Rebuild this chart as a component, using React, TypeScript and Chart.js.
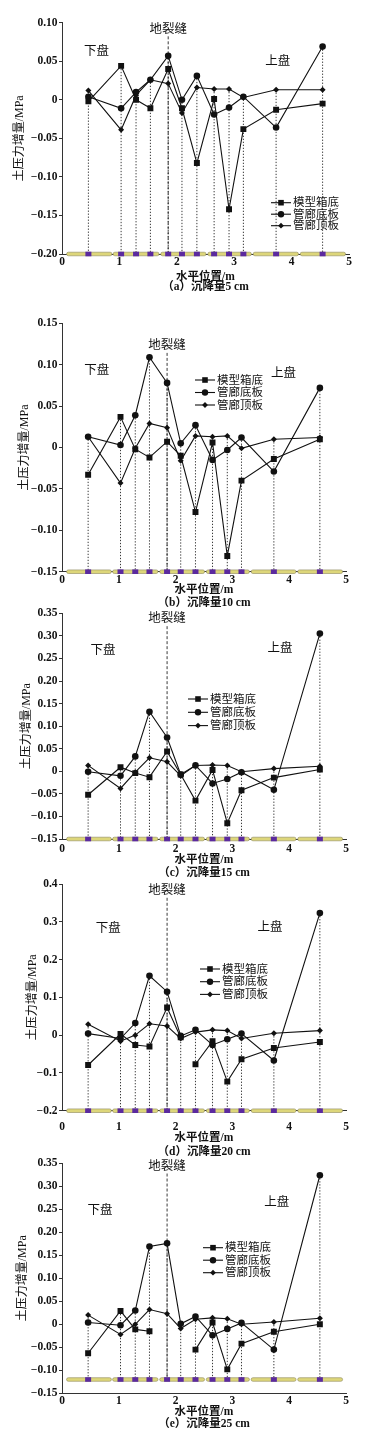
import React, { useEffect, useRef } from 'react';
import { Chart, registerables } from 'chart.js';

Chart.register(...registerables);

const FONT = "'Liberation Serif', 'Noto Sans CJK SC', serif";

// sensor positions (m) and fault location
const positions = [0.46, 1.03, 1.29, 1.54, 1.85, 2.09, 2.35, 2.65, 2.91, 3.16, 3.73, 4.54];
const faultX = 1.85;
const seriesNames = ['模型箱底', '管廊底板', '管廊顶板'];
const xTickValues = [0, 1, 2, 3, 4, 5];
const tubeStarts = [0.08, 0.89, 1.72, 2.54, 3.33, 4.15];
const tubeEnds = [0.87, 1.69, 2.51, 3.3, 4.12, 4.94];
const xTitle = '水平位置/m';
const yTitle = '土压力增量/MPa';
const captions = ['（a）沉降量5 cm', '（b）沉降量10 cm', '（c）沉降量15 cm', '（d）沉降量20 cm', '（e）沉降量25 cm'];

// (a) 5 cm
const boxA = [-0.002, 0.044, 0.0, -0.011, 0.04, -0.011, -0.082, 0.001, -0.142, -0.038, -0.013, -0.005];
const floorA = [0.004, -0.011, 0.01, 0.026, 0.057, 0.0, 0.031, -0.019, -0.01, 0.004, -0.036, 0.069];
const roofA = [0.012, -0.039, 0.006, 0.026, 0.021, -0.017, 0.016, 0.014, 0.014, 0.003, 0.013, 0.013];

// (b) 10 cm
const boxB = [-0.033, 0.037, -0.002, -0.012, 0.007, -0.01, -0.078, 0.006, -0.131, -0.04, -0.014, 0.01];
const floorB = [0.013, 0.003, 0.039, 0.109, 0.078, 0.005, 0.027, -0.015, -0.003, 0.012, -0.029, 0.072];
const roofB = [0.013, -0.043, -0.001, 0.029, 0.024, -0.016, 0.014, 0.013, 0.014, -0.001, 0.01, 0.012];

// (c) 15 cm
const boxC = [-0.052, 0.009, -0.004, -0.013, 0.044, -0.007, -0.065, 0.003, -0.115, -0.042, -0.014, 0.004];
const floorC = [-0.001, -0.01, 0.033, 0.132, 0.075, -0.007, 0.013, -0.027, -0.017, -0.002, -0.041, 0.305];
const roofC = [0.013, -0.038, -0.002, 0.03, 0.021, -0.01, 0.013, 0.014, 0.013, -0.001, 0.006, 0.011];

// (d) 20 cm
const boxD = [-0.079, 0.003, -0.026, -0.03, 0.073, -0.006, -0.077, -0.016, -0.123, -0.064, -0.034, -0.018];
const boxBreaksD = [5];
const floorD = [0.004, -0.009, 0.032, 0.157, 0.115, -0.002, 0.014, -0.026, -0.011, 0.004, -0.067, 0.323];
const roofD = [0.029, -0.016, 0.0, 0.03, 0.024, -0.009, 0.008, 0.014, 0.012, -0.009, 0.005, 0.012];

// (e) 25 cm
const boxE = [-0.063, 0.029, -0.011, -0.015, null, null, -0.055, 0.004, -0.098, -0.042, -0.016, 0.0];
const floorE = [0.004, -0.002, 0.03, 0.169, 0.176, 0.001, 0.017, -0.024, -0.01, 0.003, -0.055, 0.324];
const roofE = [0.02, -0.022, 0.0, 0.032, 0.023, -0.009, 0.011, 0.014, 0.012, 0.0, 0.005, 0.013];

type Panel = {
  key: string;
  box: (number | null)[];
  floor: number[];
  roof: number[];
  boxBreaks: number[];
  yMin: number; yMax: number; step: number; dec: number; barY: number;
  caption: string;
  top: number; height: number; areaTop: number; areaBottom: number; areaRight: number;
  tickY: number; titleY: number; capY: number; yTitleX: number;
  legendX: number; legendY: number; legendGap: number;
  lower: [number, number]; upper: [number, number]; faultLabelY: number;
};

const panels: Panel[] = [
  {
    key: 'a', box: boxA, floor: floorA, roof: roofA, boxBreaks: [],
    yMin: -0.2, yMax: 0.1, step: 0.05, dec: 2, barY: -0.2, caption: captions[0],
    top: 0, height: 296, areaTop: 22.7, areaBottom: 254, areaRight: 349,
    tickY: 261.7, titleY: 276.7, capY: 287.3, yTitleX: 20,
    legendX: 271, legendY: 202.7, legendGap: 11.5,
    lower: [0.6, 0.0624], upper: [3.76, 0.0494], faultLabelY: 0.0914,
  },
  {
    key: 'b', box: boxB, floor: floorB, roof: roofB, boxBreaks: [],
    yMin: -0.15, yMax: 0.15, step: 0.05, dec: 2, barY: -0.15, caption: captions[1],
    top: 300, height: 312, areaTop: 323.3, areaBottom: 571.7, areaRight: 346,
    tickY: 580, titleY: 590, capY: 602.7, yTitleX: 25,
    legendX: 195, legendY: 380, legendGap: 12.5,
    lower: [0.61, 0.0925], upper: [3.9, 0.0897], faultLabelY: 0.1227,
  },
  {
    key: 'c', box: boxC, floor: floorC, roof: roofC, boxBreaks: [],
    yMin: -0.15, yMax: 0.35, step: 0.05, dec: 2, barY: -0.15, caption: captions[2],
    top: 596, height: 289, areaTop: 613.3, areaBottom: 839, areaRight: 346,
    tickY: 849.3, titleY: 860, capY: 873.3, yTitleX: 27,
    legendX: 188, legendY: 699, legendGap: 13.3,
    lower: [0.72, 0.267], upper: [3.84, 0.272], faultLabelY: 0.337,
  },
  {
    key: 'd', box: boxD, floor: floorD, roof: roofD, boxBreaks: boxBreaksD,
    yMin: -0.2, yMax: 0.4, step: 0.1, dec: 1, barY: -0.2, caption: captions[3],
    top: 870, height: 292, areaTop: 884, areaBottom: 1110.7, areaRight: 346,
    tickY: 1126.7, titleY: 1138.3, capY: 1151.7, yTitleX: 33,
    legendX: 200, legendY: 969, legendGap: 12.7,
    lower: [0.815, 0.281], upper: [3.66, 0.283], faultLabelY: 0.382,
  },
  {
    key: 'e', box: boxE, floor: floorE, roof: roofE, boxBreaks: [],
    yMin: -0.15, yMax: 0.35, step: 0.05, dec: 2, barY: -0.12, caption: captions[4],
    top: 1150, height: 290, areaTop: 1163.3, areaBottom: 1393.3, areaRight: 346,
    tickY: 1400.7, titleY: 1411.7, capY: 1424, yTitleX: 23,
    legendX: 203, legendY: 1247.7, legendGap: 12.5,
    lower: [0.67, 0.248], upper: [3.78, 0.264], faultLabelY: 0.343,
  },
];

const INK = '#111';
const styles = ['rect', 'circle', 'rectRot'];
const radii = [4.2, 3.3, 3];

function drawMarker(ctx: CanvasRenderingContext2D, style: string, x: number, y: number) {
  ctx.beginPath();
  if (style === 'rect') ctx.rect(x - 2.8, y - 2.8, 5.6, 5.6);
  else if (style === 'circle') ctx.arc(x, y, 3.2, 0, Math.PI * 2);
  else {
    ctx.moveTo(x, y - 2.9); ctx.lineTo(x + 2.9, y); ctx.lineTo(x, y + 2.9); ctx.lineTo(x - 2.9, y); ctx.closePath();
  }
  ctx.fill();
}

function makeDecor(p: Panel) {
  return {
    id: 'decor_' + p.key,
    beforeDatasetsDraw(chart: any) {
      const { ctx, scales } = chart;
      const x = scales.x, y = scales.y;
      const yb = y.getPixelForValue(p.barY);
      ctx.save();
      ctx.strokeStyle = '#222';
      ctx.lineWidth = 0.9;
      ctx.setLineDash([1.3, 1.7]);
      positions.forEach((px, i) => {
        const vals = [p.box[i], p.floor[i], p.roof[i]].filter((v) => v !== null && v !== undefined) as number[];
        const topV = Math.max(...vals);
        const xp = x.getPixelForValue(px);
        ctx.beginPath();
        ctx.moveTo(xp, y.getPixelForValue(topV));
        ctx.lineTo(xp, yb);
        ctx.stroke();
      });
      ctx.setLineDash([3, 2]);
      const fx = x.getPixelForValue(faultX);
      ctx.beginPath();
      ctx.moveTo(fx, y.getPixelForValue(p.faultLabelY) + 7);
      ctx.lineTo(fx, yb);
      ctx.stroke();
      ctx.restore();
    },
    afterDraw(chart: any) {
      const { ctx, scales } = chart;
      const x = scales.x, y = scales.y;
      const yb = y.getPixelForValue(p.barY);
      ctx.save();
      // tube segments
      tubeStarts.forEach((s, i) => {
        const x1 = x.getPixelForValue(s);
        const x2 = x.getPixelForValue(tubeEnds[i]);
        ctx.beginPath();
        if ((ctx as any).roundRect) (ctx as any).roundRect(x1, yb - 1.8, x2 - x1, 3.6, 1.8);
        else ctx.rect(x1, yb - 1.8, x2 - x1, 3.6);
        ctx.fillStyle = '#ddd67a';
        ctx.fill();
        ctx.strokeStyle = '#8f8a5c';
        ctx.lineWidth = 0.6;
        ctx.stroke();
      });
      // sensors
      ctx.fillStyle = '#5b2a9e';
      positions.forEach((px) => {
        const xp = x.getPixelForValue(px);
        ctx.fillRect(xp - 3, yb - 2.3, 6, 4.6);
      });
      // annotations
      ctx.fillStyle = INK;
      ctx.textAlign = 'center';
      ctx.textBaseline = 'middle';
      ctx.font = `12.5px ${FONT}`;
      ctx.fillText('下盘', x.getPixelForValue(p.lower[0]), y.getPixelForValue(p.lower[1]));
      ctx.fillText('上盘', x.getPixelForValue(p.upper[0]), y.getPixelForValue(p.upper[1]));
      ctx.fillText('地裂缝', x.getPixelForValue(faultX), y.getPixelForValue(p.faultLabelY));
      // legend
      const lx = p.legendX;
      const ly0 = p.legendY - p.top;
      ctx.textAlign = 'left';
      ctx.font = `11.5px ${FONT}`;
      chart.data.datasets.forEach((ds: any, i: number) => {
        const ly = ly0 + i * p.legendGap;
        ctx.strokeStyle = INK;
        ctx.lineWidth = 1.1;
        ctx.setLineDash([]);
        ctx.beginPath();
        ctx.moveTo(lx, ly);
        ctx.lineTo(lx + 20, ly);
        ctx.stroke();
        ctx.fillStyle = INK;
        drawMarker(ctx, styles[i], lx + 10, ly);
        ctx.fillText(ds.label, lx + 22, ly + 0.5);
      });
      ctx.restore();
    },
  };
}

function PanelChart({ p }: { p: Panel }) {
  const ref = useRef<HTMLCanvasElement>(null);
  useEffect(() => {
    if (!ref.current) return;
    const lh = p.capY - p.titleY;
    const xAxisH = p.capY + lh / 2 - p.areaBottom;
    const padBottom = p.height - (p.capY + lh / 2 - p.top);
    const tickFont = { family: FONT, size: 11.5, weight: 'bold' as const, lineHeight: 1.2 };
    const series = [p.box, p.floor, p.roof];
    const datasets = series.map((vals, k) => ({
      label: seriesNames[k],
      data: positions.map((px, i) => ({ x: px, y: vals[i] })),
      borderColor: INK,
      backgroundColor: INK,
      borderWidth: 1.1,
      pointStyle: styles[k],
      pointRadius: radii[k],
      pointHoverRadius: radii[k],
      pointBackgroundColor: INK,
      pointBorderColor: INK,
      pointBorderWidth: 0,
      tension: 0,
      fill: false,
      spanGaps: false,
      segment: k === 0 && p.boxBreaks.length
        ? { borderColor: (c: any) => (p.boxBreaks.includes(c.p0DataIndex) ? 'rgba(0,0,0,0)' : INK) }
        : undefined,
    }));
    const chart = new Chart(ref.current, {
      type: 'line',
      data: { datasets: datasets as any },
      options: {
        responsive: false,
        maintainAspectRatio: false,
        animation: false,
        devicePixelRatio: 1,
        layout: {
          padding: { top: p.areaTop - p.top, bottom: padBottom, left: 0, right: 371 - p.areaRight },
        },
        plugins: { legend: { display: false }, tooltip: { enabled: false } },
        scales: {
          x: {
            type: 'linear',
            min: 0,
            max: 5,
            afterBuildTicks: (s: any) => { s.ticks = xTickValues.map((v) => ({ value: v })); },
            afterFit: (s: any) => { s.height = xAxisH; },
            ticks: {
              color: INK,
              font: tickFont,
              padding: p.tickY - p.areaBottom - 6.9,
              callback: (v: any) => String(v),
            },
            grid: { display: true, drawOnChartArea: false, drawTicks: false },
            border: { display: true, color: '#333', width: 1 },
            title: {
              display: true,
              text: [xTitle, p.caption],
              color: INK,
              font: { family: FONT, size: 11.5, weight: 'bold', lineHeight: `${lh}px` } as any,
              padding: 0,
            },
          },
          y: {
            type: 'linear',
            min: p.yMin,
            max: p.yMax,
            afterFit: (s: any) => { s.width = 62; },
            ticks: {
              stepSize: p.step,
              color: INK,
              font: tickFont,
              padding: 1.5,
              callback: (v: any) => {
                const n = Number(v);
                if (Math.abs(n) < 1e-9) return '0';
                return (n < 0 ? '−' : '') + Math.abs(n).toFixed(p.dec);
              },
            },
            grid: { display: true, drawOnChartArea: false, drawTicks: true, tickLength: 3, color: '#333' },
            border: { display: true, color: '#333', width: 1 },
            title: {
              display: true,
              text: yTitle,
              color: INK,
              font: { family: FONT, size: 12, lineHeight: 1.2 },
              padding: { top: p.yTitleX - 7.2, bottom: 0 },
            },
          },
        },
      },
      plugins: [makeDecor(p)],
    });
    return () => chart.destroy();
  }, [p]);
  return (
    <div style={{ position: 'absolute', left: 0, top: p.top, width: 371, height: p.height }}>
      <canvas ref={ref} width={371} height={p.height} style={{ display: 'block', width: 371, height: p.height }} />
    </div>
  );
}

export default function App() {
  return (
    <div style={{ position: 'absolute', left: 0, top: 0, width: 371, height: 1444, background: '#fff', overflow: 'hidden' }}>
      {panels.map((p) => (
        <PanelChart key={p.key} p={p} />
      ))}
    </div>
  );
}
